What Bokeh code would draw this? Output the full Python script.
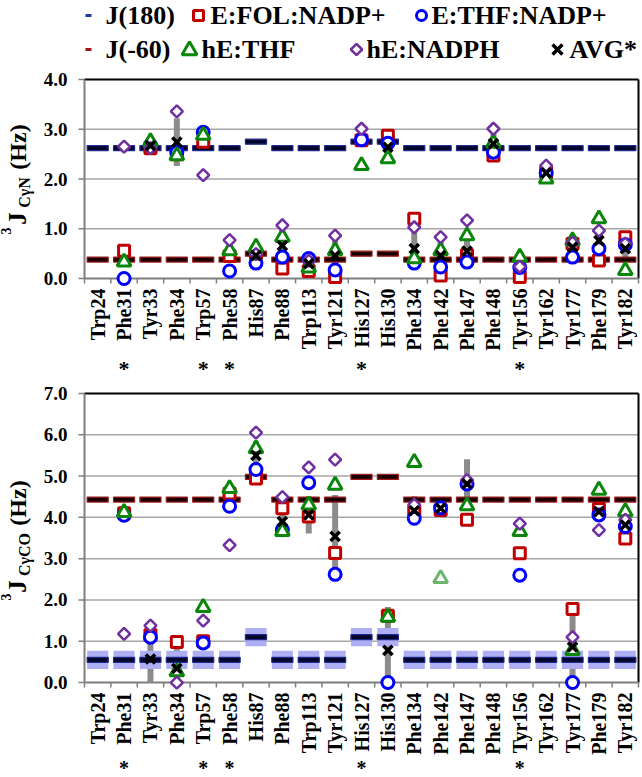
from math import pi
from bokeh.plotting import figure
from bokeh.models import Range1d, FixedTicker, PrintfTickFormatter
from bokeh.layouts import column, row
from bokeh.embed import file_html
from bokeh.resources import INLINE
from bokeh.core.properties import value

FONT = "Liberation Serif"
N = None

residues = ["Trp24", "Phe31", "Tyr33", "Phe34", "Trp57", "Phe58", "His87", "Phe88", "Trp113",
            "Tyr121", "His127", "His130", "Phe134", "Phe142", "Phe147", "Phe148", "Tyr156",
            "Tyr162", "Tyr177", "Phe179", "Tyr182"]
starred = ["Phe31", "Trp57", "Phe58", "His127", "Tyr156"]

# ---- top panel: 3J(CgammaN) ----
cn_j180 = [2.62, 2.62, 2.62, 2.62, 2.62, 2.62, 2.75, 2.62, 2.62, 2.62, 2.75, 2.75, 2.62, 2.62,
           2.62, 2.62, 2.62, 2.62, 2.62, 2.62, 2.62]
cn_jm60 = [0.38, 0.38, 0.38, 0.38, 0.38, 0.38, 0.50, 0.38, 0.38, 0.38, 0.50, 0.50, 0.38, 0.38,
           0.38, 0.38, 0.38, 0.38, 0.38, 0.38, 0.38]
cn_fol = [N, 0.56, 2.62, 2.50, 2.75, 0.45, 0.50, 0.20, 0.15, 0.03, 2.78, 2.87, 1.20, 0.06,
          0.47, 2.47, 0.03, 2.13, 0.70, 0.36, 0.83]
cn_thf = [N, 0.00, 2.68, 2.54, 2.94, 0.15, 0.31, 0.43, 0.40, 0.17, 2.79, 2.72, 0.31, 0.23,
          0.33, 2.54, 0.22, 2.12, 0.43, 0.60, 0.68]
cn_hthf = [N, 0.33, 2.75, 2.47, 2.88, 0.56, 0.63, 0.83, 0.21, 0.56, 2.27, 2.41, 0.40, 0.56,
           0.86, 2.72, 0.43, 2.00, 0.76, 1.20, 0.16]
cn_hnadph = [N, 2.65, 2.62, 3.36, 2.08, 0.77, 0.49, 1.07, 0.36, 0.86, 3.01, N, 1.03, 0.83,
             1.17, 3.01, 0.24, 2.27, 0.72, 0.96, 0.70]
cn_avg = [N, N, 2.67, 2.74, N, N, 0.46, 0.66, 0.30, 0.46, N, 2.64, 0.60, 0.46, 0.55, 2.71,
          N, 2.12, 0.63, 0.76, 0.60]
cn_err = [N, N, 0.05, 0.48, N, N, 0.15, 0.33, 0.10, 0.35, N, 0.20, 0.42, 0.30, 0.35, 0.20,
          N, 0.10, 0.15, 0.30, 0.28]

# ---- bottom panel: 3J(CgammaCO) ----
cco_j180 = [0.55, 0.55, 0.55, 0.55, 0.55, 0.55, 1.10, 0.55, 0.55, 0.55, 1.10, 1.10, 0.55,
            0.55, 0.55, 0.55, 0.55, 0.55, 0.55, 0.55, 0.55]
cco_j180_unc = 0.22
cco_jm60 = [4.43, 4.43, 4.43, 4.43, 4.43, 4.43, 4.98, 4.43, 4.43, 4.43, 4.98, 4.98, 4.43,
            4.43, 4.43, 4.43, 4.43, 4.43, 4.43, 4.43, 4.43]
cco_fol = [N, 4.10, 1.15, 0.98, 1.00, 4.58, 4.94, 4.22, 4.02, 3.14, N, 1.62, 4.15, 4.18,
           3.94, N, 3.13, N, 1.78, 4.20, 3.49]
cco_thf = [N, 4.05, 1.10, N, 0.96, 4.27, 5.16, 3.70, 4.84, 2.62, N, 0.00, 3.98, 4.23,
           4.81, N, 2.60, N, 0.00, 4.06, 3.78]
cco_hthf = [N, 4.12, N, 0.26, 1.82, 4.70, 5.66, 3.66, 4.30, 4.78, N, 1.58, 5.33, N,
            4.28, N, 3.66, N, 0.78, 4.66, 4.14]
cco_hthf_faint = [N, N, N, N, N, N, N, N, N, N, N, N, N, 2.52, N, N, N, N, N, N, N]
cco_hnadph = [N, 1.18, 1.38, 0.00, 1.50, 3.33, 6.05, 4.49, 5.21, 5.40, N, N, 4.30, N,
              4.90, N, 3.85, N, 1.10, 3.69, 3.94]
cco_avg = [N, N, 0.57, 0.34, N, N, 5.50, 3.90, 4.06, 3.54, N, 0.78, 4.16, 4.22, 4.81,
           N, N, N, 0.86, 4.14, 3.82]
cco_err = [N, N, 0.60, 0.65, N, N, 0.35, 0.30, 0.45, 1.00, N, 1.05, 0.35, 0.05, 0.60,
           N, N, N, 0.95, 0.25, 0.20]

RED = "#C00000"
BLUE = "#0000FF"
GREEN = "#0A870A"
PURPLE = "#7030A0"
FAINT_GREEN = "#6DB56D"
NAVY = "#1E2A8C"
DARKRED = "#A01C1C"
GREYBAR = "#8C8C8C"
BAND = "#AEAEF3"
AXIS = "#7F7F7F"
GRID = "#A6A6A6"

STRIP_W = 40
PW = 642 - STRIP_W                 # width of panel figures
AX_L, AX_R = 84, 638               # page x of the plot area edges
PAD_L, PAD_R, PAD_T, PAD_B = 7, 2, 2, 8   # frame padding so edge markers are not cut
NC = len(residues)
CW = (AX_R - AX_L) / NC            # pixels per category


def pts(vals):
    xs = [i for i, v in enumerate(vals) if v is not None]
    ys = [v for v in vals if v is not None]
    return xs, ys


def bare(width, height, xr, yr, **kw):
    f = figure(width=width, height=height, x_range=xr, y_range=yr, output_backend="svg",
               toolbar_location=None, x_axis_location=None, y_axis_location=None, **kw)
    f.grid.visible = False
    f.outline_line_color = None
    f.background_fill_color = "white"
    f.border_fill_color = "white"
    return f


def panel(fig_top, fig_bot, ymax_pg, y0_pg, ymax, d):
    yu = (y0_pg - ymax_pg) / ymax                  # pixels per unit
    fr_top, fr_bot = ymax_pg - PAD_T, y0_pg + PAD_B
    x_lo, x_hi = -0.5, NC - 0.5
    p = figure(width=PW, height=fig_bot - fig_top,
               x_range=Range1d(x_lo - PAD_L / CW, x_hi + PAD_R / CW),
               y_range=Range1d(-PAD_B / yu, ymax + PAD_T / yu),
               output_backend="svg", toolbar_location=None,
               min_border_left=AX_L - PAD_L - STRIP_W, min_border_right=642 - AX_R - PAD_R,
               min_border_top=fr_top - fig_top, min_border_bottom=fig_bot - fr_bot)
    p.background_fill_color = "white"
    p.border_fill_color = "white"
    p.outline_line_color = None
    p.grid.visible = False
    yt = list(range(0, ymax + 1))

    ya = p.yaxis[0]
    ya.ticker = FixedTicker(ticks=yt)
    ya.formatter = PrintfTickFormatter(format="%.1f")
    ya.major_tick_out = 0
    ya.major_tick_in = 0
    ya.major_tick_line_color = None
    ya.minor_tick_line_color = None
    ya.axis_line_color = None
    ya.major_label_text_font = FONT
    ya.major_label_text_font_style = "bold"
    ya.major_label_text_font_size = "19px"
    ya.major_label_text_color = "black"
    ya.major_label_standoff = 10

    xa = p.xaxis[0]
    xa.ticker = FixedTicker(ticks=list(range(NC)))
    xa.major_label_overrides = {i: r for i, r in enumerate(residues)}
    xa.major_tick_out = 0
    xa.major_tick_in = 0
    xa.major_tick_line_color = None
    xa.minor_tick_line_color = None
    xa.axis_line_color = None
    xa.major_label_orientation = pi / 2
    xa.major_label_standoff = 2
    xa.major_label_text_font = FONT
    xa.major_label_text_font_style = "bold"
    xa.major_label_text_font_size = "20px"
    xa.major_label_text_color = "black"

    # grid, axis lines, ticks and plot-area border
    gy = yt[1:-1]
    p.segment(x0=[x_lo for _ in gy], y0=gy, x1=[x_hi for _ in gy], y1=gy,
              line_color=GRID, line_width=1.5)
    bx = [i - 0.5 for i in range(NC + 1)]
    p.segment(x0=bx, y0=[0 for _ in bx], x1=bx, y1=[-5 / yu for _ in bx],
              line_color=AXIS, line_width=1.5)
    p.segment(x0=[x_lo for _ in yt], y0=yt, x1=[x_lo - 6 / CW for _ in yt], y1=yt,
              line_color=AXIS, line_width=1.5)
    p.segment(x0=[x_lo, x_hi], y0=[ymax, ymax], x1=[x_hi, x_hi], y1=[ymax, 0],
              line_color="black", line_width=2)
    p.segment(x0=[x_lo, x_lo], y0=[0, 0], x1=[x_hi, x_lo], y1=[0, ymax],
              line_color=AXIS, line_width=2)

    # error bars of the average
    ax, ay = pts(d["avg"])
    _, ae = pts(d["err"])
    p.segment(x0=ax, y0=[max(0, a - e) for a, e in zip(ay, ae)], x1=ax,
              y1=[a + e for a, e in zip(ay, ae)], line_color=GREYBAR, line_width=6)
    # theoretical values
    jx, jy = pts(d["j180"])
    if d.get("unc") is not None:
        p.rect(x=jx, y=jy, width=0.8, height=2 * d["unc"], fill_color=BAND, line_color=None)
    p.rect(x=jx, y=jy, width=0.8, height=5, height_units="screen",
           fill_color="#05052A", line_color=NAVY, line_width=1.2)
    mx, my = pts(d["jm60"])
    p.rect(x=mx, y=my, width=0.8, height=5, height_units="screen",
           fill_color="#1A0000", line_color=DARKRED, line_width=1.2)

    sx, sy = pts(d["fol"])
    p.scatter(sx, sy, marker="square", size=11, fill_color="white", line_color=RED, line_width=3)
    sx, sy = pts(d["thf"])
    p.scatter(sx, sy, marker="circle", size=12, fill_color="white", line_color=BLUE, line_width=3)
    if d.get("faint") is not None:
        sx, sy = pts(d["faint"])
        p.scatter(sx, sy, marker="triangle", size=14, fill_color="white", line_color=FAINT_GREEN,
                  line_width=3)
    sx, sy = pts(d["hthf"])
    p.scatter(sx, sy, marker="triangle", size=14, fill_color="white", line_color=GREEN, line_width=3)
    sx, sy = pts(d["hnadph"])
    p.scatter(sx, sy, marker="square", angle=pi / 4, size=8.5, fill_color="white",
              line_color=PURPLE, line_width=2.5)
    p.scatter(ax, ay, marker="x", size=13, line_color="black", line_width=3.5)
    return p


def star_strip(h, y_anchor, size):
    s = bare(PW, h, Range1d(-0.5 - PAD_L / CW, NC - 0.5 + PAD_R / CW), Range1d(h, 0),
             min_border_left=AX_L - PAD_L - STRIP_W, min_border_right=642 - AX_R - PAD_R,
             min_border_top=0, min_border_bottom=0)
    s.text(x=[residues.index(r) for r in starred], y=[y_anchor for _ in starred],
           text=["*" for _ in starred], text_font=value(FONT), text_font_style="bold",
           text_font_size=size, text_align="center", text_baseline="middle",
           text_color="black")
    return s


# page layout: legend 0-68, top panel 68-355, stars 355-380, bottom panel 380-757, stars 757-777
top = panel(68, 355, 79, 278, 4, dict(
    j180=cn_j180, jm60=cn_jm60, fol=cn_fol, thf=cn_thf, hthf=cn_hthf, hnadph=cn_hnadph,
    avg=cn_avg, err=cn_err))
stars1 = star_strip(25, 13, "22px")
bottom = panel(380, 757, 393, 684, 7, dict(
    j180=cco_j180, unc=cco_j180_unc, jm60=cco_jm60, fol=cco_fol, thf=cco_thf, hthf=cco_hthf,
    faint=cco_hthf_faint, hnadph=cco_hnadph, avg=cco_avg, err=cco_err))
stars2 = star_strip(20, 10, "20px")

# ---- y-axis titles (with superscript / subscript) in a strip on the left ----
strip = bare(STRIP_W, 777 - 68, Range1d(0, STRIP_W), Range1d(777, 68), min_border=0)
titles = [("3", "14px", 5.5, 230.5), ("J", "25px", 17.0, 218.0), ("C\u03b3N", "16px", 23.5, 192.0),
          ("(Hz)", "24px", 17.5, 146.5),
          ("3", "14px", 5.5, 596.5), ("J", "25px", 17.0, 586.0), ("C\u03b3CO", "16px", 23.5, 554.0),
          ("(Hz)", "24px", 17.5, 502.5)]
for txt, size, tx, ty in titles:
    strip.text(x=[tx], y=[ty], text=[txt], angle=pi / 2, text_font=value(FONT),
               text_font_style="bold", text_font_size=size, text_align="center",
               text_baseline="middle", text_color="black")

# ---- legend strip (page pixel coordinates) ----
leg = bare(642, 68, Range1d(0, 642), Range1d(68, 0), min_border=0)
r1, r2 = 15, 49
leg.rect(x=[88], y=[r1], width=6, height=3, fill_color="#1F3A9E", line_color=None)
leg.rect(x=[88], y=[r2], width=6, height=3, fill_color="#A31515", line_color=None)
leg.scatter([198], [r1], marker="square", size=10, fill_color="white", line_color=RED, line_width=3)
leg.scatter([421], [r1], marker="circle", size=10, fill_color="white", line_color=BLUE, line_width=3)
leg.scatter([189], [r2 + 1], marker="triangle", size=15, fill_color="white", line_color=GREEN,
            line_width=3)
leg.scatter([356], [r2], marker="square", angle=pi / 4, size=8, fill_color="white",
            line_color=PURPLE, line_width=2.5)
leg.scatter([557], [r2], marker="x", size=14, line_color="black", line_width=3.5)
leg.text(x=[105, 210, 431, 105, 201, 366, 569], y=[r1, r1, r1, r2, r2, r2, r2],
         text=["J(180)", "E:FOL:NADP+", "E:THF:NADP+", "J(-60)", "hE:THF", "hE:NADPH", "AVG*"],
         text_font=value(FONT), text_font_style="bold", text_font_size="26px",
         text_align="left", text_baseline="middle", text_color="black")

page = column(leg, row(strip, column(top, stars1, bottom, stars2, spacing=0), spacing=0),
              spacing=0)
open("out.html", "w").write(file_html(page, INLINE))
